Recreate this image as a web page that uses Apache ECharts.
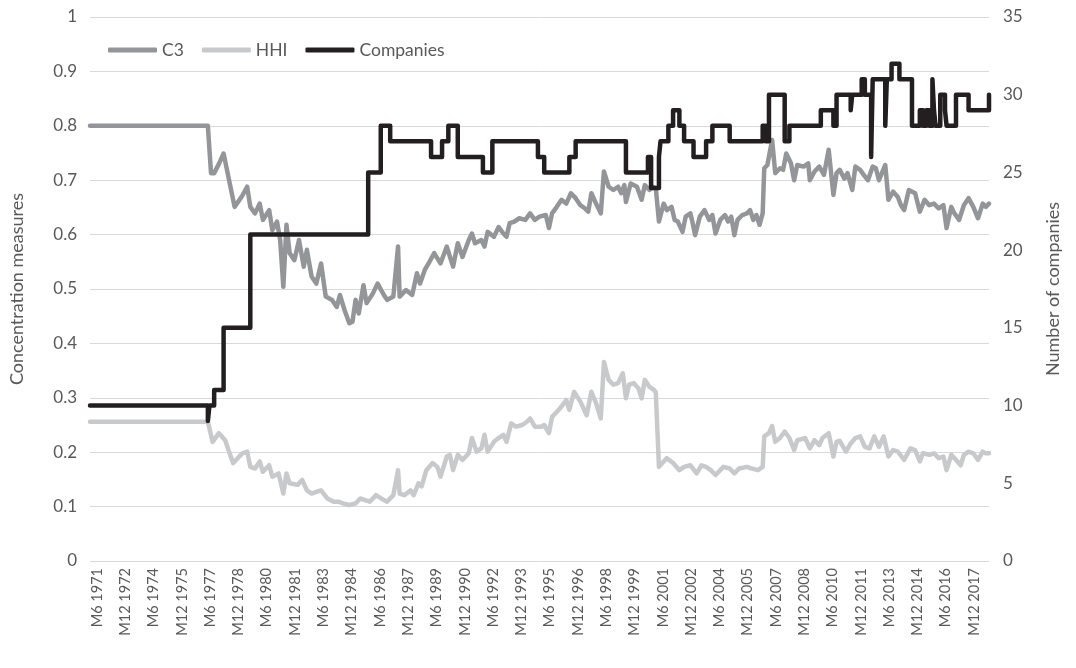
<!DOCTYPE html>
<html>
<head>
<meta charset="utf-8">
<script src="https://cdn.jsdelivr.net/npm/echarts@6/dist/echarts.min.js"></script>
<style>html,body{margin:0;background:#fff}#chart{width:1076px;height:668px}</style>
</head>
<body>
<div id="chart"></div>
<script>
// x = month index, 0 = M6 1971 (one label every 18 months)
var xLabels = ['M6 1971','M12 1972','M6 1974','M12 1975','M6 1977','M12 1978','M6 1980','M12 1981',
  'M6 1983','M12 1984','M6 1986','M12 1987','M6 1989','M12 1990','M6 1992','M12 1993','M6 1995',
  'M12 1996','M6 1998','M12 1999','M6 2001','M12 2002','M6 2004','M12 2005','M6 2007','M12 2008',
  'M6 2010','M12 2011','M6 2013','M12 2014','M6 2016','M12 2017'];
var lastMonth = 572;

var c3 = [[0,0.80],[75,0.80],[77,0.713],[79,0.713],[82,0.73],[85,0.749],[92,0.651],[97,0.672],[100,0.688],[102,0.651],[105,0.639],[108,0.657],[110,0.627],[114,0.645],[116,0.608],[119,0.624],[121,0.59],[123,0.504],[125,0.618],[127,0.566],[130,0.553],[133,0.59],[136,0.541],[138,0.572],[141,0.523],[144,0.51],[147,0.547],[150,0.486],[154,0.48],[157,0.467],[159,0.489],[162,0.461],[165,0.437],[167,0.44],[169,0.48],[171,0.455],[174,0.507],[176,0.474],[180,0.492],[183,0.51],[187,0.489],[189,0.48],[193,0.486],[196,0.578],[197,0.486],[201,0.498],[205,0.489],[208,0.529],[210,0.51],[213,0.535],[216,0.55],[219,0.566],[223,0.547],[227,0.578],[231,0.541],[234,0.584],[237,0.559],[241,0.59],[243,0.602],[245,0.584],[249,0.59],[251,0.578],[253,0.605],[257,0.596],[260,0.614],[263,0.602],[265,0.596],[267,0.621],[270,0.624],[273,0.63],[277,0.627],[280,0.639],[283,0.627],[286,0.633],[290,0.636],[292,0.612],[294,0.639],[297,0.651],[300,0.664],[303,0.657],[306,0.676],[309,0.667],[312,0.654],[315,0.648],[317,0.642],[319,0.676],[322,0.657],[325,0.639],[327,0.716],[330,0.688],[333,0.682],[336,0.688],[338,0.676],[340,0.691],[341,0.66],[344,0.694],[348,0.688],[351,0.664],[353,0.691],[356,0.682],[358,0.688],[360,0.685],[362,0.624],[365,0.657],[367,0.645],[370,0.651],[372,0.627],[374,0.624],[377,0.605],[379,0.633],[382,0.639],[383,0.627],[385,0.599],[388,0.633],[391,0.645],[394,0.627],[396,0.636],[398,0.602],[401,0.627],[404,0.636],[406,0.624],[408,0.633],[410,0.599],[412,0.627],[415,0.636],[418,0.639],[420,0.645],[422,0.627],[424,0.636],[426,0.618],[428,0.639],[429,0.722],[431,0.728],[434,0.774],[436,0.713],[439,0.722],[441,0.719],[443,0.749],[446,0.731],[448,0.70],[450,0.728],[454,0.725],[457,0.731],[458,0.70],[461,0.716],[464,0.725],[467,0.71],[470,0.756],[473,0.673],[475,0.713],[477,0.719],[480,0.703],[482,0.713],[485,0.682],[487,0.725],[490,0.719],[493,0.707],[495,0.70],[498,0.725],[500,0.722],[502,0.70],[506,0.728],[508,0.664],[511,0.679],[514,0.669],[516,0.654],[518,0.645],[521,0.682],[525,0.676],[528,0.642],[531,0.664],[534,0.654],[537,0.657],[540,0.648],[543,0.654],[545,0.612],[548,0.651],[550,0.639],[553,0.627],[556,0.654],[559,0.667],[562,0.651],[565,0.63],[568,0.657],[570,0.651],[572,0.657]];

var hhi = [[0,0.256],[75,0.256],[78,0.219],[82,0.235],[86,0.222],[91,0.18],[97,0.198],[100,0.201],[102,0.173],[105,0.17],[108,0.183],[110,0.164],[114,0.176],[116,0.155],[120,0.161],[123,0.124],[125,0.161],[127,0.143],[132,0.14],[135,0.149],[138,0.13],[141,0.124],[144,0.127],[147,0.13],[151,0.115],[155,0.109],[158,0.109],[161,0.106],[165,0.103],[169,0.106],[172,0.115],[175,0.112],[178,0.109],[182,0.121],[187,0.112],[189,0.109],[193,0.121],[196,0.167],[197,0.124],[200,0.121],[204,0.13],[206,0.121],[209,0.143],[211,0.137],[214,0.167],[218,0.18],[221,0.173],[223,0.155],[227,0.192],[229,0.195],[231,0.167],[234,0.195],[237,0.186],[241,0.198],[243,0.226],[246,0.201],[249,0.207],[251,0.232],[253,0.201],[257,0.219],[260,0.226],[263,0.232],[265,0.219],[268,0.253],[271,0.247],[275,0.25],[278,0.256],[280,0.262],[283,0.247],[287,0.247],[289,0.25],[292,0.235],[294,0.265],[297,0.274],[300,0.284],[303,0.296],[305,0.278],[308,0.311],[312,0.293],[316,0.268],[319,0.311],[322,0.29],[325,0.262],[327,0.366],[330,0.333],[333,0.324],[336,0.327],[339,0.345],[341,0.299],[343,0.324],[346,0.327],[349,0.317],[351,0.299],[353,0.333],[356,0.32],[359,0.314],[360,0.31],[362,0.173],[365,0.183],[367,0.189],[371,0.18],[375,0.167],[378,0.173],[382,0.176],[383,0.173],[386,0.161],[389,0.176],[392,0.173],[395,0.167],[398,0.158],[403,0.173],[407,0.17],[410,0.161],[413,0.17],[418,0.173],[421,0.17],[425,0.167],[428,0.173],[429,0.229],[432,0.235],[434,0.248],[436,0.219],[439,0.226],[442,0.238],[445,0.226],[448,0.204],[450,0.222],[455,0.226],[458,0.207],[461,0.222],[464,0.213],[466,0.226],[470,0.235],[473,0.192],[475,0.219],[477,0.221],[481,0.201],[484,0.216],[487,0.226],[490,0.229],[493,0.21],[496,0.207],[499,0.229],[502,0.21],[505,0.229],[508,0.192],[511,0.204],[514,0.201],[518,0.186],[522,0.207],[525,0.204],[528,0.183],[530,0.198],[534,0.195],[537,0.198],[540,0.189],[543,0.192],[545,0.167],[548,0.195],[551,0.186],[554,0.176],[556,0.195],[559,0.201],[562,0.198],[565,0.186],[568,0.201],[570,0.198],[572,0.198]];

// number of companies: [month where level starts, level]
var companies = [[0,10],[75,9],[76,10],[79,11],[85,15],[102,21],[177,25],[185,28],[191,27],[217,26],[224,27],[228,28],[234,26],[250,25],[256,27],[285,26],[289,25],[305,26],[309,27],[341,25],[355,26],[357,24],[362,26],[363,27],[368,28],[371,29],[375,28],[378,27],[384,26],[392,27],[396,28],[407,27],[428,28],[430,27],[432,30],[442,27],[445,28],[465,29],[473,28],[475,30],[484,29],[485,30],[491,31],[493,30],[497,26],[498,31],[506,28],[507,31],[510,32],[515,31],[523,28],[528,29],[530,28],[532,29],[534,28],[536,31],[537,29],[538,28],[541,30],[544,29],[545,28],[551,30],[559,29],[572,30]];

// labels sit a little right of their month in the original
var labelShift = 4.5;
var labelMonths = xLabels.map(function(s, i){ return i * 18 + labelShift; });
var txt = '#595959';
var font = 'Lato';

var chart = echarts.init(document.getElementById('chart'));
chart.setOption({
  animation: false,
  textStyle: {fontFamily: font},
  grid: {left: 88, right: 87, top: 17, bottom: 107},
  legend: {
    left: 103, top: 36,
    icon: 'roundRect',
    itemWidth: 49, itemHeight: 5, itemGap: 18,
    textStyle: {fontSize: 17.5, color: txt, fontFamily: font},
    data: ['C3', 'HHI', 'Companies']
  },
  xAxis: {
    type: 'value', min: 0, max: lastMonth,
    axisLine: {show: false}, axisTick: {show: false}, splitLine: {show: false},
    axisLabel: {
      customValues: labelMonths,
      rotate: 90, fontSize: 14.5, color: txt, margin: 7,
      formatter: function(v){ return xLabels[Math.round((v - labelShift) / 18)]; }
    }
  },
  yAxis: [{
    type: 'value', min: 0, max: 1, interval: 0.1,
    name: 'Concentration measures', nameLocation: 'middle', nameGap: 64, nameRotate: 90,
    nameTextStyle: {fontSize: 18, color: txt},
    axisLine: {show: false}, axisTick: {show: false},
    axisLabel: {fontSize: 17, color: txt, margin: 13},
    splitLine: {lineStyle: {color: '#d9d9d9', width: 1}}
  }, {
    type: 'value', min: 0, max: 35, interval: 5,
    name: 'Number of companies', nameLocation: 'middle', nameGap: 55, nameRotate: 90,
    nameTextStyle: {fontSize: 18, color: txt},
    axisLine: {show: false}, axisTick: {show: false},
    axisLabel: {fontSize: 17, color: txt, margin: 14},
    splitLine: {show: false}
  }],
  series: [{
    name: 'C3', type: 'line', yAxisIndex: 0, data: c3,
    symbol: 'none', color: '#939598',
    lineStyle: {width: 4.5, color: '#939598', join: 'round', cap: 'round'}
  }, {
    name: 'HHI', type: 'line', yAxisIndex: 0, data: hhi,
    symbol: 'none', color: '#c8c9cb',
    lineStyle: {width: 4.5, color: '#c8c9cb', join: 'round', cap: 'round'}
  }, {
    name: 'Companies', type: 'line', yAxisIndex: 1, data: companies, step: 'end',
    symbol: 'none', color: '#231f20',
    lineStyle: {width: 4.5, color: '#231f20', join: 'round', cap: 'round'}
  }]
});
</script>
</body>
</html>
